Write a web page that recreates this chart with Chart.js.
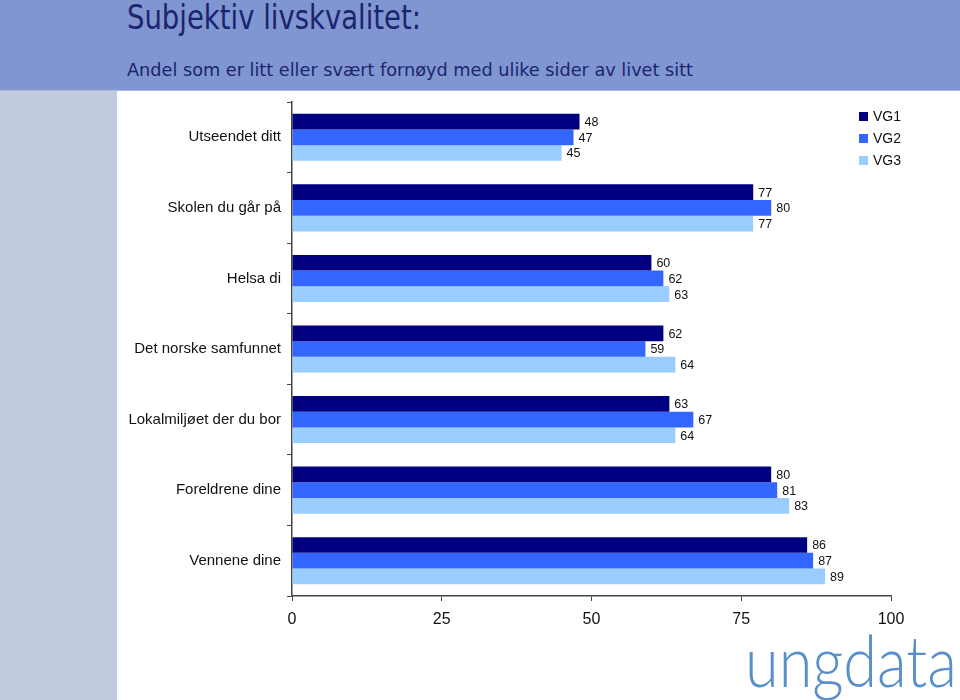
<!DOCTYPE html>
<html>
<head>
<meta charset="utf-8">
<script src="https://cdn.jsdelivr.net/npm/chart.js@4.4.0/dist/chart.umd.min.js"></script>
<style>
  html, body { margin:0; padding:0; width:960px; height:700px; overflow:hidden; background:#fff; }
  #header { position:absolute; left:0; top:0; width:960px; height:90px; background:#8096d0; border-bottom:1px solid #a8b8e6; }
  #strip { position:absolute; left:0; top:91px; width:117px; height:609px; background:#c1cbdf; }
  #title { position:absolute; left:127px; top:-2px; font-family:"DejaVu Sans Condensed", "DejaVu Sans", Verdana, sans-serif; font-size:33px; line-height:40px; color:#1c2470; white-space:nowrap; transform-origin:left top; }
  #subtitle { position:absolute; left:127px; top:58px; font-family:"DejaVu Sans Condensed", "DejaVu Sans", Verdana, sans-serif; font-size:18px; line-height:24px; color:#1c2470; white-space:nowrap; transform-origin:left top; }
  #wrap { position:absolute; left:0; top:0; width:960px; height:700px; }
  #legend { position:absolute; left:859px; top:105px; font-family:"Liberation Sans", Arial, sans-serif; font-size:14px; color:#111; }
  .li { height:22px; line-height:16px; display:flex; align-items:center; }
  .sw { width:9px; height:9px; margin-right:5px; }
  #logo { position:absolute; left:745px; top:625px; font-family:"Lato", "Open Sans", sans-serif; font-weight:300; font-size:70px; line-height:70px; color:#5a8fcc; white-space:nowrap; transform-origin:left top; }
</style>
</head>
<body>
<div id="header"></div>
<div id="strip"></div>
<div id="title">Subjektiv livskvalitet:</div>
<div id="subtitle">Andel som er litt eller svært fornøyd med ulike sider av livet sitt</div>
<div id="logo">ungdata</div>
<div id="wrap"><canvas id="c" width="960" height="700"></canvas></div>
<div id="legend"></div>
<script>
const categories = ["Utseendet ditt", "Skolen du går på", "Helsa di", "Det norske samfunnet", "Lokalmiljøet der du bor", "Foreldrene dine", "Vennene dine"];
const seriesNames = ["VG1", "VG2", "VG3"];
const vg1 = [48, 77, 60, 62, 63, 80, 86];
const vg2 = [47, 80, 62, 59, 67, 81, 87];
const vg3 = [45, 77, 63, 64, 64, 83, 89];
const xTicks = [0, 25, 50, 75, 100];
const colors = ["#000080", "#3366ff", "#99ccff"];

function fitWidth(id, w) {
  const el = document.getElementById(id);
  const r = el.getBoundingClientRect().width;
  el.style.transform = 'scaleX(' + (w / r) + ')';
}
fitWidth('title', 294);
fitWidth('subtitle', 566);
fitWidth('logo', 212);

const leg = document.getElementById('legend');
seriesNames.forEach((n, i) => {
  const d = document.createElement('div'); d.className = 'li';
  d.innerHTML = '<span class="sw" style="background:' + colors[i] + '"></span>' + n;
  leg.appendChild(d);
});

const valueLabels = {
  id: 'valueLabels',
  afterDatasetsDraw(chart) {
    const ctx = chart.ctx;
    ctx.save();
    ctx.font = '12.5px "Liberation Sans", Arial, sans-serif';
    ctx.fillStyle = '#111';
    ctx.textAlign = 'left';
    ctx.textBaseline = 'middle';
    chart.data.datasets.forEach((ds, di) => {
      chart.getDatasetMeta(di).data.forEach((bar, i) => {
        ctx.fillText(String(ds.data[i]), bar.x + 5, bar.y + 1);
      });
    });
    ctx.restore();
  }
};

new Chart(document.getElementById('c'), {
  type: 'bar',
  data: {
    labels: categories,
    datasets: [
      { label: seriesNames[0], data: vg1, backgroundColor: colors[0] },
      { label: seriesNames[1], data: vg2, backgroundColor: colors[1] },
      { label: seriesNames[2], data: vg3, backgroundColor: colors[2] }
    ]
  },
  options: {
    indexAxis: 'y',
    responsive: false,
    animation: false,
    devicePixelRatio: 1,
    layout: { padding: { left: 0, top: 102, right: 69, bottom: 0 } },
    plugins: { legend: { display: false }, tooltip: { enabled: false } },
    datasets: { bar: { categoryPercentage: 0.667, barPercentage: 1.0, borderWidth: 0 } },
    scales: {
      x: {
        min: 0, max: 100,
        afterBuildTicks(axis) { axis.ticks = xTicks.map(v => ({ value: v })); },
        afterFit(axis) { axis.height = 104; },
        grid: { drawOnChartArea: false, drawTicks: true, tickLength: 5, color: '#444' },
        border: { display: true, color: '#444', width: 1.5 },
        ticks: { font: { family: '"Liberation Sans", Arial, sans-serif', size: 16 }, color: '#111', padding: 9 }
      },
      y: {
        afterFit(axis) { axis.width = 292; },
        grid: { drawOnChartArea: false, drawTicks: true, tickLength: 5, color: '#444', offset: true },
        border: { display: true, color: '#444', width: 1.5 },
        ticks: { font: { family: '"Liberation Sans", Arial, sans-serif', size: 15 }, color: '#111', padding: 6 }
      }
    }
  },
  plugins: [valueLabels]
});
</script>
</body>
</html>
